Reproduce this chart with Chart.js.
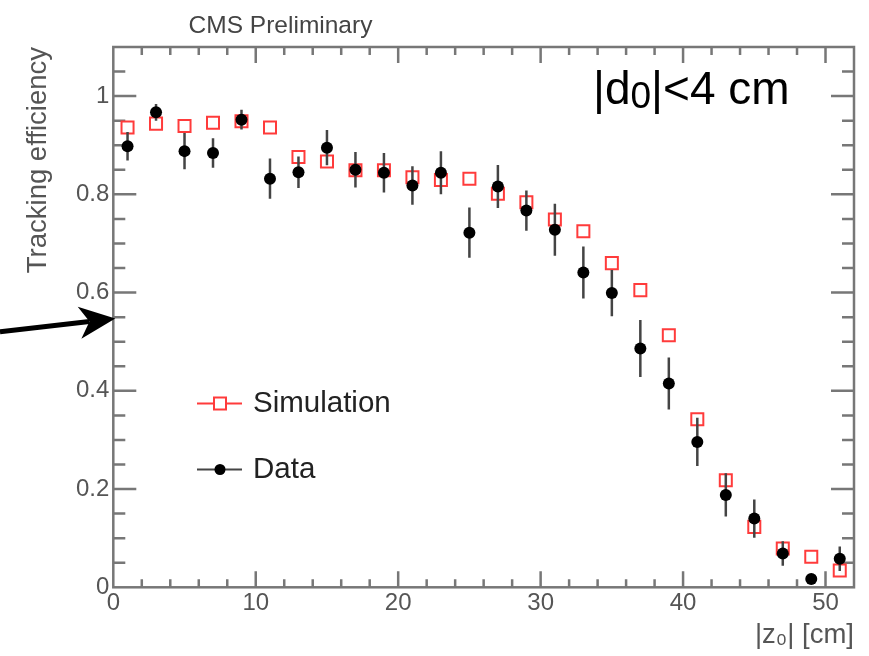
<!DOCTYPE html>
<html>
<head>
<meta charset="utf-8">
<script src="https://cdn.jsdelivr.net/npm/chart.js@4/dist/chart.umd.min.js"></script>
<style>
  html, body { margin: 0; padding: 0; background: #fff; }
  canvas { display: block; }
</style>
</head>
<body>
<canvas id="c" width="869" height="656"></canvas>
<script>
// |z0| bin centres [cm]
const zBins = [1, 3, 5, 7, 9, 11, 13, 15, 17, 19, 21, 23, 25, 27, 29, 31, 33, 35, 37, 39, 41, 43, 45, 47, 49, 51];

// Measured tracking efficiency and its uncertainty
const dataEff = [0.898, 0.967, 0.888, 0.884, 0.952, 0.832, 0.845, 0.895, 0.850, 0.844, 0.818, 0.844, 0.722,
                 0.816, 0.767, 0.728, 0.641, 0.599, 0.486, 0.415, 0.296, 0.188, 0.140, 0.069, 0.017, 0.058];
const dataErr = [0.029, 0.017, 0.037, 0.030, 0.020, 0.041, 0.032, 0.036, 0.036, 0.040, 0.039, 0.044, 0.051,
                 0.044, 0.041, 0.053, 0.053, 0.047, 0.058, 0.053, 0.049, 0.044, 0.039, 0.025, 0.008, 0.025];

// Simulated tracking efficiency
const simEff = [0.936, 0.944, 0.939, 0.946, 0.949, 0.936, 0.876, 0.867, 0.849, 0.849, 0.835, 0.829, 0.832,
                0.801, 0.784, 0.749, 0.725, 0.660, 0.605, 0.513, 0.342, 0.218, 0.123, 0.079, 0.062, 0.034];

// Axis ticks
const xTickValues = [0, 10, 20, 30, 40, 50];
const xTickLabels = ['0', '10', '20', '30', '40', '50'];
const yTickValues = [0, 0.2, 0.4, 0.6, 0.8, 1.0];
const yTickLabels = ['0', '0.2', '0.4', '0.6', '0.8', '1'];

const FONT = '"Liberation Sans", Arial, Helvetica, sans-serif';
const RED = '#ff3b3b';

// Frame with inward major/minor ticks on all four sides
const frameAxes = {
  id: 'frameAxes',
  beforeDatasetsDraw(chart) {
    const { ctx, chartArea: a, scales: { x, y } } = chart;
    ctx.save();
    ctx.strokeStyle = '#777';
    ctx.lineWidth = 2.5;
    ctx.strokeRect(a.left, a.top, a.right - a.left, a.bottom - a.top);
    ctx.beginPath();
    for (let k = 1; k * 2 < x.max; k++) {
      const px = x.getPixelForValue(k * 2);
      const len = (k % 5 === 0) ? 16 : 8;
      ctx.moveTo(px, a.bottom); ctx.lineTo(px, a.bottom - len);
      ctx.moveTo(px, a.top); ctx.lineTo(px, a.top + len);
    }
    for (let k = 1; k * 0.05 < y.max - 1e-9; k++) {
      const py = y.getPixelForValue(k * 0.05);
      const len = (k % 4 === 0) ? 23 : 12;
      ctx.moveTo(a.left, py); ctx.lineTo(a.left + len, py);
      ctx.moveTo(a.right, py); ctx.lineTo(a.right - len, py);
    }
    ctx.stroke();
    ctx.restore();
  }
};

// Vertical error bars on the measured points, drawn between the two series
const errorBars = {
  id: 'errorBars',
  afterDatasetDraw(chart, args) {
    if (args.index !== 1) return;
    const { ctx, scales: { x, y } } = chart;
    ctx.save();
    ctx.strokeStyle = '#444';
    ctx.lineWidth = 2.5;
    ctx.beginPath();
    zBins.forEach((z, i) => {
      const px = x.getPixelForValue(z);
      ctx.moveTo(px, y.getPixelForValue(dataEff[i] - dataErr[i]));
      ctx.lineTo(px, y.getPixelForValue(dataEff[i] + dataErr[i]));
    });
    ctx.stroke();
    ctx.restore();
  }
};

// Header, cut label, legend and arrow marker
const decorations = {
  id: 'decorations',
  afterDraw(chart) {
    const { ctx, chartArea: a, scales: { x, y } } = chart;
    ctx.save();

    // header
    ctx.fillStyle = '#444';
    ctx.font = '24.5px ' + FONT;
    ctx.textAlign = 'center';
    ctx.textBaseline = 'alphabetic';
    ctx.fillText('CMS Preliminary', 280.5, 32.5);

    // impact-parameter cut
    ctx.fillStyle = '#000';
    ctx.textAlign = 'left';
    let cx = 593;
    const base = 103.5;
    ctx.font = '46px ' + FONT;
    ctx.fillText('|d', cx, base);
    cx += ctx.measureText('|d').width;
    ctx.font = '37px ' + FONT;
    ctx.fillText('0', cx, base + 4);
    cx += ctx.measureText('0').width;
    ctx.font = '46px ' + FONT;
    ctx.fillText('|<4 cm', cx, base);

    // legend
    const rows = [
      { label: 'Simulation', y: 403.5, color: RED, marker: 'rect' },
      { label: 'Data', y: 469.5, color: '#444', marker: 'circle' }
    ];
    rows.forEach(r => {
      ctx.strokeStyle = r.color;
      ctx.lineWidth = 2;
      ctx.beginPath();
      ctx.moveTo(197, r.y); ctx.lineTo(242, r.y);
      ctx.stroke();
      if (r.marker === 'rect') {
        ctx.fillStyle = '#fff';
        ctx.fillRect(214, r.y - 6, 12, 12);
        ctx.strokeStyle = RED;
        ctx.strokeRect(214, r.y - 6, 12, 12);
      } else {
        ctx.fillStyle = '#000';
        ctx.beginPath();
        ctx.arc(220, r.y, 5.5, 0, Math.PI * 2);
        ctx.fill();
      }
      ctx.fillStyle = '#222';
      ctx.font = '29.5px ' + FONT;
      ctx.textAlign = 'left';
      ctx.textBaseline = 'middle';
      ctx.fillText(r.label, 253, r.y);
    });

    // arrow pointing at the efficiency axis
    const tipX = x.getPixelForValue(0) + 2;
    const tipY = y.getPixelForValue(0.547);
    const tailY = y.getPixelForValue(0.52);
    const ang = Math.atan2(tipY - tailY, tipX - 0);
    const rot = (dx, dy) => [tipX + dx * Math.cos(ang) - dy * Math.sin(ang),
                             tipY + dx * Math.sin(ang) + dy * Math.cos(ang)];
    ctx.strokeStyle = '#000';
    ctx.lineWidth = 5;
    ctx.beginPath();
    ctx.moveTo(0, tailY);
    ctx.lineTo(...rot(-26, 0));
    ctx.stroke();
    ctx.fillStyle = '#000';
    ctx.beginPath();
    ctx.moveTo(tipX, tipY);
    ctx.lineTo(...rot(-36, -16));
    ctx.lineTo(...rot(-26, 0));
    ctx.lineTo(...rot(-36, 16));
    ctx.closePath();
    ctx.fill();

    ctx.restore();
  }
};

new Chart(document.getElementById('c'), {
  type: 'scatter',
  data: {
    datasets: [
      {
        label: 'Data',
        data: zBins.map((z, i) => ({ x: z, y: dataEff[i] })),
        pointStyle: 'circle',
        pointRadius: 6,
        backgroundColor: '#000',
        borderColor: '#000',
        borderWidth: 0,
        showLine: false
      },
      {
        label: 'Simulation',
        data: zBins.map((z, i) => ({ x: z, y: simEff[i] })),
        pointStyle: 'rect',
        pointRadius: 8.5,
        backgroundColor: 'rgba(0,0,0,0)',
        borderColor: RED,
        borderWidth: 2,
        showLine: false
      }
    ]
  },
  options: {
    responsive: false,
    animation: false,
    devicePixelRatio: 1,
    events: [],
    layout: { padding: { top: 47, right: 15, bottom: 0, left: 0 } },
    plugins: { legend: { display: false }, tooltip: { enabled: false } },
    scales: {
      x: {
        type: 'linear',
        min: 0,
        max: 52,
        afterBuildTicks: s => { s.ticks = xTickValues.map(v => ({ value: v })); },
        afterFit: s => { s.height = 68.7; },
        grid: { display: false, drawTicks: false },
        border: { display: false },
        ticks: {
          autoSkip: false,
          maxRotation: 0,
          padding: 2,
          color: '#555',
          font: { family: FONT, size: 24 },
          callback: (v, i) => xTickLabels[i]
        },
        title: {
          display: true,
          text: '|z\u2080| [cm]',
          align: 'end',
          color: '#555',
          font: { family: FONT, size: 27.5 },
          padding: { top: 0, bottom: 4 }
        }
      },
      y: {
        type: 'linear',
        min: 0,
        max: 1.1,
        afterBuildTicks: s => { s.ticks = yTickValues.map(v => ({ value: v })); },
        afterFit: s => { s.width = 113.3; },
        grid: { display: false, drawTicks: false },
        border: { display: false },
        ticks: {
          autoSkip: false,
          padding: 4,
          color: '#555',
          font: { family: FONT, size: 24 },
          callback: (v, i) => yTickLabels[i]
        },
        title: {
          display: true,
          text: 'Tracking efficiency',
          align: 'end',
          color: '#555',
          font: { family: FONT, size: 27.5 },
          padding: { top: 22, bottom: 0 }
        }
      }
    }
  },
  plugins: [frameAxes, errorBars, decorations]
});
</script>
</body>
</html>
